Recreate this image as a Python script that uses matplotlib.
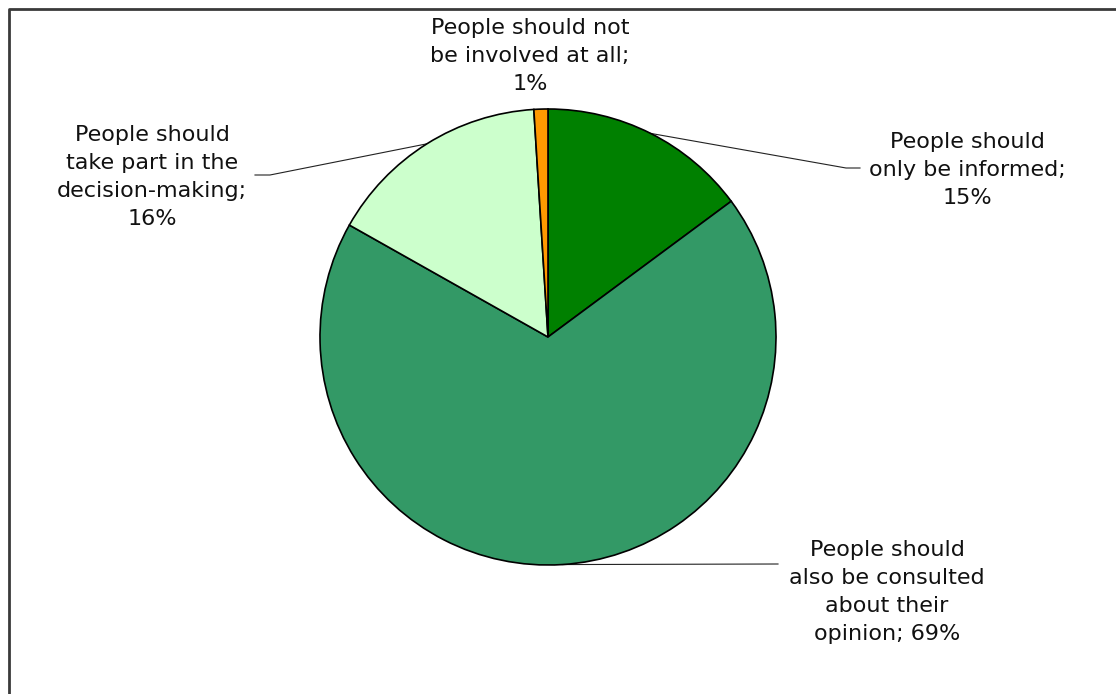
import numpy as np
import matplotlib.pyplot as plt

# Survey shares: how people should be involved
labels = ['People should\nonly be informed;\n15%',
          'People should\nalso be consulted\nabout their\nopinion; 69%',
          'People should\ntake part in the\ndecision-making;\n16%',
          'People should not\nbe involved at all;\n1%']
shares = [15, 69, 16, 1]
colors = ['#008000', '#339966', '#CCFFCC', '#FF9900']

W, H = 1116, 694
fig = plt.figure(figsize=(W / 100, H / 100), dpi=100)
ax = fig.add_axes([0, 0, 1, 1])

cx, cy, r = 548, H - 337, 228
wedges, _ = ax.pie(shares, colors=colors, startangle=90, counterclock=False,
                   center=(cx, cy), radius=r,
                   wedgeprops=dict(edgecolor='black', linewidth=1.2))
ax.set_xlim(0, W)
ax.set_ylim(0, H)
ax.set_aspect('equal')
ax.axis('off')

# label block centres and leader elbows (pixel layout, y measured from top)
text_pos = [(967, 170), (887, 592), (152, 177), (530, 56)]
elbows = [[(846, 168), (860, 168)],
          [(778, 564)],
          [(270, 175), (255, 175)],
          None]

font = dict(family='DejaVu Sans', fontsize=16, color='#111111')
for w, lab, (tx, ty), elb in zip(wedges, labels, text_pos, elbows):
    ax.text(tx, H - ty, lab, ha='center', va='center', linespacing=1.5, **font)
    if elb is None:
        continue
    mid = np.deg2rad((w.theta1 + w.theta2) / 2)
    xs = [cx + r * np.cos(mid)] + [p[0] for p in elb]
    ys = [cy + r * np.sin(mid)] + [H - p[1] for p in elb]
    ax.plot(xs, ys, color='#222222', linewidth=0.8, zorder=0.5)

# chart area border: top and left edges only, drawn in figure pixels
fig.add_artist(plt.Line2D([8.5 / W, 8.5 / W, 1.0], [0.0, 1 - 8.5 / H, 1 - 8.5 / H],
                          transform=fig.transFigure, color='#3a3a3a',
                          linewidth=2, solid_capstyle='butt'))

fig.savefig('out.png', dpi=100, facecolor='white')
